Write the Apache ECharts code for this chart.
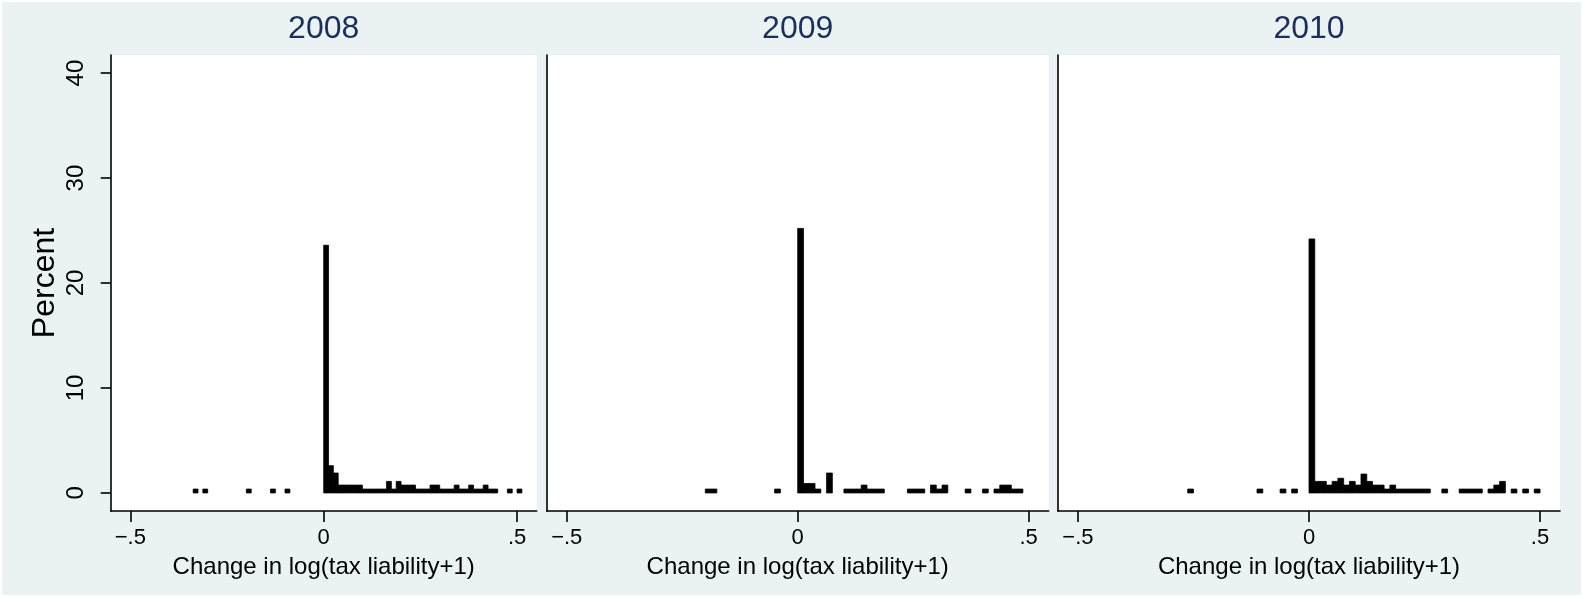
<!DOCTYPE html>
<html>
<head>
<meta charset="utf-8">
<script src="https://cdn.jsdelivr.net/npm/echarts@6/dist/echarts.min.js"></script>
<style>
  html, body { margin: 0; padding: 0; background: #ffffff; }
  #chart { width: 1583px; height: 597px; }
</style>
</head>
<body>
<div id="chart"></div>
<script>
// Histogram of the yearly change in log(tax liability+1), bins of width 0.0125
const binWidth = 0.0125;
const years = ['2008', '2009', '2010'];

// lower bin edges and percent of observations per bin
const edges2008 = [-0.3375, -0.3125, -0.2, -0.1375, -0.1,
  0, 0.0125, 0.025, 0.0375, 0.05, 0.0625, 0.075, 0.0875, 0.1, 0.1125, 0.125, 0.1375, 0.15,
  0.1625, 0.175, 0.1875, 0.2, 0.2125, 0.225, 0.2375, 0.25, 0.2625, 0.275, 0.2875, 0.3,
  0.3125, 0.325, 0.3375, 0.35, 0.3625, 0.375, 0.3875, 0.4, 0.4125, 0.425, 0.4375, 0.475, 0.5];
const pct2008 = [0.37, 0.37, 0.37, 0.37, 0.37,
  23.6, 2.6, 1.9, 0.75, 0.75, 0.75, 0.75, 0.75, 0.37, 0.37, 0.37, 0.37, 0.37,
  1.1, 0.37, 1.1, 0.75, 0.75, 0.75, 0.37, 0.37, 0.37, 0.75, 0.75, 0.37,
  0.37, 0.37, 0.75, 0.37, 0.37, 0.75, 0.37, 0.37, 0.75, 0.37, 0.37, 0.37, 0.37];

const edges2009 = [-0.2, -0.1875, -0.05,
  0, 0.0125, 0.025, 0.0375, 0.0625, 0.1, 0.1125, 0.125, 0.1375, 0.15, 0.1625, 0.175,
  0.2375, 0.25, 0.2625, 0.2875, 0.3, 0.3125, 0.3625, 0.4, 0.425, 0.4375, 0.45, 0.4625, 0.475];
const pct2009 = [0.37, 0.37, 0.37,
  25.2, 0.9, 0.9, 0.37, 1.9, 0.37, 0.37, 0.37, 0.75, 0.37, 0.37, 0.37,
  0.37, 0.37, 0.37, 0.75, 0.37, 0.75, 0.37, 0.37, 0.37, 0.75, 0.75, 0.37, 0.37];

const edges2010 = [-0.2625, -0.1125, -0.0625, -0.0375,
  0, 0.0125, 0.025, 0.0375, 0.05, 0.0625, 0.075, 0.0875, 0.1, 0.1125, 0.125, 0.1375,
  0.15, 0.1625, 0.175, 0.1875, 0.2, 0.2125, 0.225, 0.2375, 0.25, 0.2875, 0.325, 0.3375,
  0.35, 0.3625, 0.3875, 0.4, 0.4125, 0.4375, 0.4625, 0.4875];
const pct2010 = [0.37, 0.37, 0.37, 0.37,
  24.2, 1.1, 1.1, 0.75, 1.1, 1.4, 0.75, 1.1, 0.75, 1.8, 1.1, 0.75,
  0.75, 0.37, 0.75, 0.37, 0.37, 0.37, 0.37, 0.37, 0.37, 0.37, 0.37, 0.37,
  0.37, 0.37, 0.37, 0.75, 1.1, 0.37, 0.37, 0.37];

const yTicks = [0, 10, 20, 30, 40];
const xTicks = [-0.5, 0, 0.5];
const xTitle = 'Change in log(tax liability+1)';
const yTitle = 'Percent';

const panelEdges = [edges2008, edges2009, edges2010];
const panelPct = [pct2008, pct2009, pct2010];

// panel placement (pixels) and axis extents
const panels = [
  { left: 110.7, width: 426, xExt: 0.5508 },
  { left: 546.7, width: 502, xExt: 0.5434 },
  { left: 1058,  width: 502, xExt: 0.5432 }
];
const plotTop = 55, plotHeight = 456;
const yMin = -1.72, yMax = 41.72;

const font = '"Liberation Sans", Arial, Helvetica, sans-serif';
const fmtTick = v => v === 0 ? '0' : (v < 0 ? '\u2212' : '') + String(Math.abs(v)).replace(/^0/, '');

const chart = echarts.init(document.getElementById('chart'), null, { renderer: 'canvas' });

function renderBar(params, api) {
  const x0 = api.value(0);
  const h = api.value(1);
  const p0 = api.coord([x0, 0]);
  const p1 = api.coord([x0 + binWidth, h]);
  return {
    type: 'rect',
    shape: { x: p0[0], y: p1[1], width: p1[0] - p0[0], height: p0[1] - p1[1] },
    style: { fill: '#000', stroke: '#000', lineWidth: 0.8 }
  };
}

const grid = [], xAxis = [], yAxis = [], series = [], graphic = [];

graphic.push({
  type: 'rect', z: -100, silent: true,
  shape: { x: 2, y: 2, width: 1579, height: 593 },
  style: { fill: '#EAF2F3' }
});

panels.forEach((p, i) => {
  grid.push({
    left: p.left, top: plotTop, width: p.width, height: plotHeight,
    show: true, backgroundColor: '#ffffff', borderWidth: 0
  });
  xAxis.push({
    type: 'value', gridIndex: i, min: -p.xExt, max: p.xExt,
    name: xTitle, nameLocation: 'middle', nameGap: 44,
    nameTextStyle: { fontFamily: font, fontSize: 24, color: '#000' },
    axisLine: { show: true, onZero: false, lineStyle: { color: '#000', width: 1.6 } },
    axisTick: { show: true, length: 11, customValues: xTicks, lineStyle: { color: '#000', width: 1.6 } },
    axisLabel: { show: true, customValues: xTicks, formatter: fmtTick, margin: 16,
      fontFamily: font, fontSize: 22, color: '#000' },
    splitLine: { show: false }
  });
  const first = i === 0;
  yAxis.push({
    type: 'value', gridIndex: i, min: yMin, max: yMax,
    name: first ? yTitle : '', nameLocation: 'middle', nameGap: 50, nameRotate: 90,
    nameTextStyle: { fontFamily: font, fontSize: 32, color: '#000' },
    axisLine: { show: true, onZero: false, lineStyle: { color: '#000', width: 1.6 } },
    axisTick: { show: first, length: 10, customValues: yTicks, lineStyle: { color: '#000', width: 1.6 } },
    axisLabel: { show: first, customValues: yTicks, rotate: 90, margin: 22,
      fontFamily: font, fontSize: 24, color: '#000' },
    splitLine: { show: false }
  });
  series.push({
    type: 'custom', xAxisIndex: i, yAxisIndex: i,
    renderItem: renderBar,
    encode: { x: 0, y: 1 },
    data: panelEdges[i].map((e, j) => [e, panelPct[i][j]])
  });
  graphic.push({
    type: 'text', silent: true,
    x: p.left + p.width / 2, y: 29,
    style: { text: years[i], textAlign: 'center', textVerticalAlign: 'middle',
      font: '32px ' + font, fill: '#1c2e5a' }
  });
});

chart.setOption({
  animation: false,
  backgroundColor: 'transparent',
  graphic, grid, xAxis, yAxis, series
});
</script>
</body>
</html>
